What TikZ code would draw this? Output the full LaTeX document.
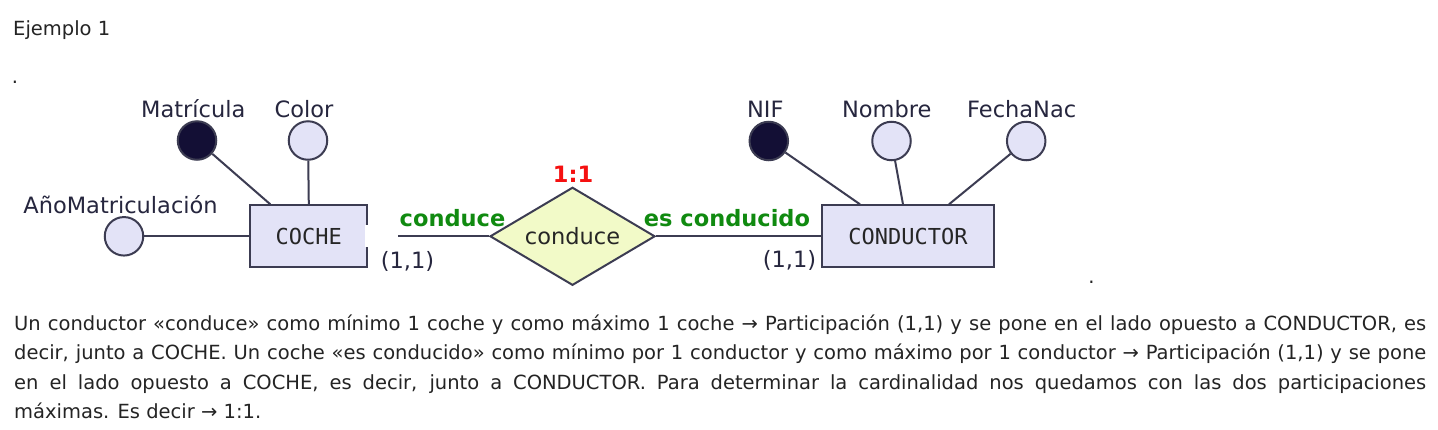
\documentclass[tikz,border=0pt]{standalone}
\usepackage{fontspec}
\setmainfont{DejaVu Sans}
\setmonofont{DejaVu Sans Mono}
\usepackage{xcolor}
\usepackage{tikz}
\usetikzlibrary{positioning,shapes.geometric}
\definecolor{erline}{RGB}{60,60,82}
\definecolor{erfill}{RGB}{227,227,247}
\definecolor{keyfill}{RGB}{19,15,53}
\definecolor{relfill}{RGB}{242,250,200}
\definecolor{erlabel}{RGB}{38,38,62}
\definecolor{rolegreen}{RGB}{16,138,16}
\definecolor{cardred}{RGB}{245,16,16}
\definecolor{bodytext}{RGB}{36,36,36}
\tikzset{
	entity/.style = {draw=erline, line width=2pt, fill=erfill, inner sep=0, text=black!85, font=\ttfamily\fontsize{22}{24}\selectfont},
	attr/.style = {circle, draw=erline, line width=2pt, fill=erfill, minimum size=38.5pt, inner sep=0},
	keyattr/.style = {attr, fill=keyfill},
	attrname/.style = {inner sep=0, text=erlabel, font=\fontsize{22.5}{24}\selectfont},
	relation/.style = {diamond, draw=erline, line width=2pt, fill=relfill, aspect=1.67, minimum width=165pt, minimum height=98pt, inner sep=0, text=black!85, font=\fontsize{22.5}{24}\selectfont},
	rolename/.style = {inner sep=0, text=rolegreen, font=\bfseries\fontsize{22.5}{24}\selectfont},
	cardname/.style = {inner sep=0, text=erlabel, font=\fontsize{22.5}{24}\selectfont},
	link/.style = {draw=erline, line width=2pt},
	plaintext/.style = {inner sep=0, text=bodytext, font=\fontsize{19.5}{29.5}\selectfont}
}
\begin{document}
\begin{tikzpicture}[x=1pt, y=-1pt]
	\useasboundingbox [fill=white] (0,0) rectangle (1438,429);
	
	\node [plaintext, anchor=base west] (title) at (13,35) {Ejemplo 1};
	\node [plaintext, anchor=base] (dot1) at (15,83.5) {.};
	
	% COCHE and its attributes
	\node [entity, minimum width=117pt, minimum height=62pt] (coche) at (308.8,236.3) {COCHE};
	\node [keyattr] (mat) at (197,140.5) {};
	\node [attr] (color) at (308,140.5) {};
	\node [attr] (anio) at (124,236.3) {};
	\node [attrname, anchor=base] (matname) at (193.3,117) {Matrícula};
	\node [attrname, anchor=base] (colorname) at (304,117) {Color};
	\node [attrname, anchor=base] (anioname) at (120.5,213) {AñoMatriculación};
	
	% relationship
	\node [relation] (rel) at (572.5,236.3) {conduce};
	\node [rolename, text=cardred, anchor=base] (ratio) at (573,182) {1:1};
	
	% CONDUCTOR and its attributes
	\node [entity, minimum width=172pt, minimum height=62pt] (cond) at (908,236.3) {CONDUCTOR};
	\node [keyattr] (nif) at (768.8,141) {};
	\node [attr] (nombre) at (891.5,141) {};
	\node [attr] (fecha) at (1026.2,141) {};
	\node [attrname, anchor=base] (nifname) at (765.3,117) {NIF};
	\node [attrname, anchor=base] (nombrename) at (886.8,117) {Nombre};
	\node [attrname, anchor=base] (fechaname) at (1021.7,117) {FechaNac};
	
	\draw [link] (mat) -- ([xshift=21pt]coche.north west);
	\draw [link] (color) -- (coche.north);
	\draw [link] (anio) -- (coche.west);
	\draw [link] (nif) -- ([xshift=39pt]cond.north west);
	\draw [link] (nombre) -- ([xshift=82pt]cond.north west);
	\draw [link] (fecha) -- ([xshift=128pt]cond.north west);
	\draw [link] (coche) -- (rel);
	\draw [link] (rel) -- (cond);
	\fill [white] (365,224.5) rectangle (398,247);
	
	\node [rolename, anchor=base] (role1) at (452.5,226) {conduce};
	\node [rolename, anchor=base] (role2) at (727,226) {es conducido};
	\node [cardname, anchor=base] (card1) at (407.5,268) {(1,1)};
	\node [cardname, anchor=base] (card2) at (789.5,267) {(1,1)};
	\node [plaintext, anchor=base] (dot2) at (1091.5,283.5) {.};
	
	\node [plaintext, anchor=north west, text width=1412pt, align=justify] (expl) at (14,314.5) {Un conductor «conduce» como mínimo 1 coche y como máximo 1 coche → Participación (1,1) y se pone en el lado opuesto a CONDUCTOR, es\linebreak decir, junto a COCHE. Un coche «es conducido» como mínimo por 1 conductor y como máximo por 1 conductor → Participación (1,1) y se pone\linebreak en el lado opuesto a COCHE, es decir, junto a CONDUCTOR. Para determinar la cardinalidad nos quedamos con las dos participaciones\linebreak máximas. Es decir → 1:1.};
\end{tikzpicture}
\end{document}
